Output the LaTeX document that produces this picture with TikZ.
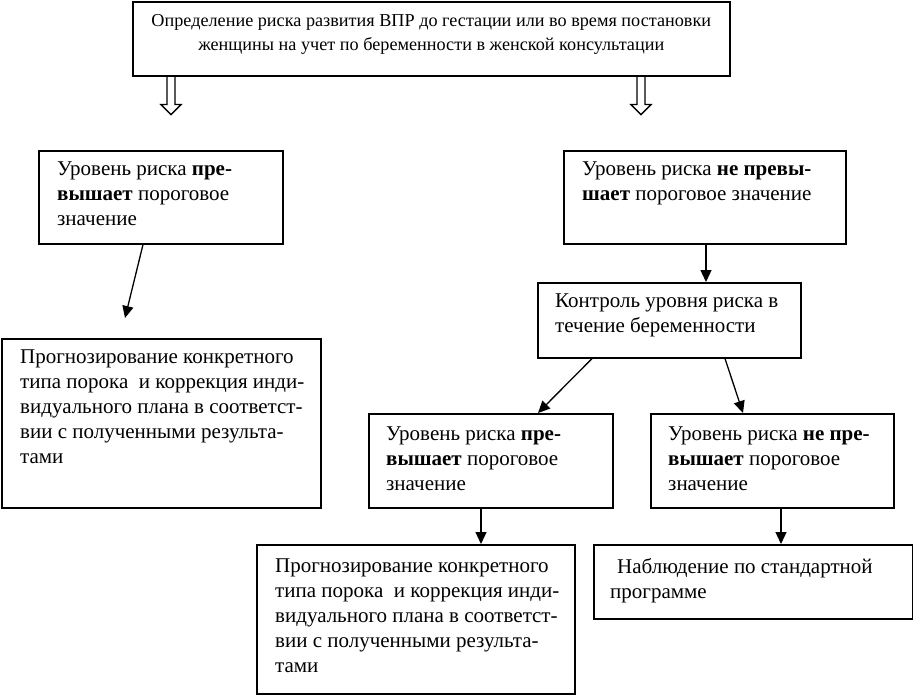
\documentclass[tikz,border=0pt]{standalone}
\usepackage{fontspec}
\setmainfont{Liberation Serif}
\usetikzlibrary{arrows.meta,calc}
\begin{document}
\begin{tikzpicture}[x=1pt,y=-1pt,
  box/.style={draw, line width=1.6pt, anchor=north west, inner sep=0pt},
  txt/.style={anchor=north west, inner sep=0pt, align=left, font=\fontsize{21}{25}\selectfont},
  conn/.style={line width=1.3pt, -{Triangle[length=12pt,width=11pt]}},
  hollow/.style={line width=1.3pt}
]
\useasboundingbox (0,0) rectangle (913,695);
% boxes
\node[box, minimum width=597pt, minimum height=74pt] (top) at (132,1) {};
\node[box, minimum width=244pt, minimum height=93pt] (A) at (38,150) {};
\node[box, minimum width=282pt, minimum height=93pt] (B) at (563,150) {};
\node[box, minimum width=263pt, minimum height=75pt] (C) at (537,282) {};
\node[box, minimum width=319pt, minimum height=169pt] (D) at (1,338) {};
\node[box, minimum width=244pt, minimum height=94pt] (E) at (368,413) {};
\node[box, minimum width=243pt, minimum height=94pt] (F) at (650,413) {};
\node[box, minimum width=318pt, minimum height=149pt] (G) at (256,544) {};
\node[box, minimum width=319pt, minimum height=74pt] (H) at (593,544) {};
% texts
\node[txt, anchor=north, align=center, font=\fontsize{18.2}{24}\selectfont] (toptxt) at ($(top.north)+(0,13)$)
  {Определение риска развития ВПР до гестации или во время постановки\\женщины на учет по беременности в женской консультации};
\node[txt] (Atxt) at ($(A.north west)+(19,12)$) {Уровень риска \textbf{пре-}\\\textbf{вышает} пороговое\\значение};
\node[txt] (Btxt) at ($(B.north west)+(19,12)$) {Уровень риска \textbf{не превы-}\\\textbf{шает} пороговое значение};
\node[txt] (Ctxt) at ($(C.north west)+(18,12)$) {Контроль уровня риска в\\течение беременности};
\node[txt] (Dtxt) at ($(D.north west)+(19,12)$) {Прогнозирование конкретного\\типа порока\ \ и коррекция инди-\\видуального плана в соответст-\\вии с полученными результа-\\тами};
\node[txt] (Etxt) at ($(E.north west)+(18,14)$) {Уровень риска \textbf{пре-}\\\textbf{вышает} пороговое\\значение};
\node[txt] (Ftxt) at ($(F.north west)+(18,14)$) {Уровень риска \textbf{не пре-}\\\textbf{вышает} пороговое\\значение};
\node[txt] (Gtxt) at ($(G.north west)+(19,15)$) {Прогнозирование конкретного\\типа порока\ \ и коррекция инди-\\видуального плана в соответст-\\вии с полученными результа-\\тами};
\node[txt] (Htxt) at ($(H.north west)+(17,14)$) {\hspace{7pt}Наблюдение по стандартной\\программе};
% hollow arrows
\coordinate (h1) at ($(top.south west)+(39,0)$);
\coordinate (h2) at ($(top.south west)+(509,0)$);
\foreach \h in {h1,h2}{
  \draw[hollow] (\h) +(-4,0) -- +(-4,28) -- +(-10,28) -- +(0,38) -- +(10,28) -- +(4,28) -- +(4,0);
}
% connectors
\coordinate (Dend) at ($(D.north west)+(124,-20)$);
\draw[conn] ($(A.south west)+(105,0)$) -- (Dend);
\draw[conn] ($(B.south west)+(143,0)$) -- ($(C.north west)+(169,0)$);
\draw[conn] ($(C.south west)+(55,0)$) -- ($(E.north west)+(170,0)$);
\draw[conn] ($(C.south west)+(188,0)$) -- ($(F.north west)+(93,0)$);
\draw[conn] ($(E.south west)+(113,0)$) -- ($(G.north west)+(225,0)$);
\draw[conn] ($(F.south west)+(131,0)$) -- ($(H.north west)+(188,0)$);
\end{tikzpicture}
\end{document}
